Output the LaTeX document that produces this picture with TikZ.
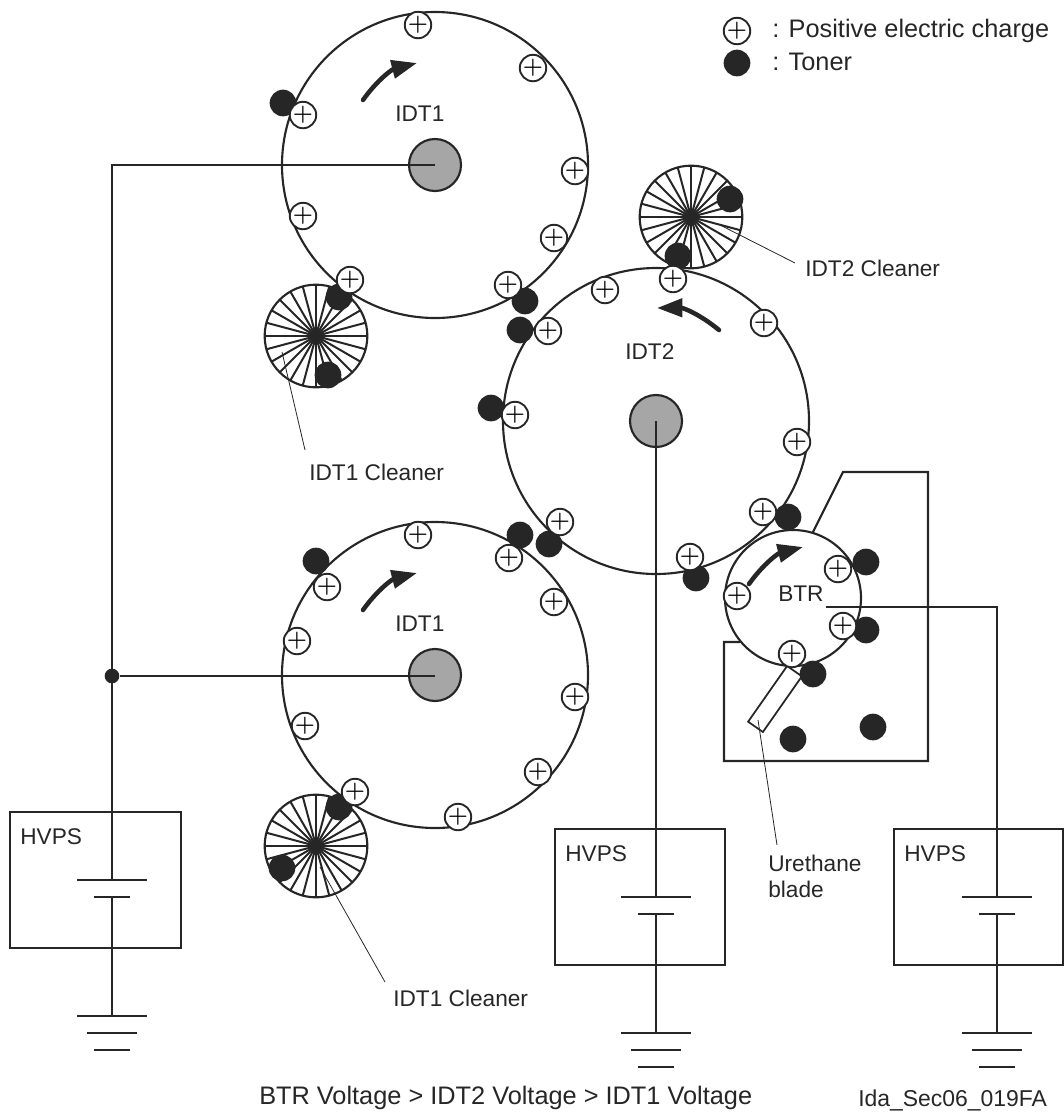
\documentclass[tikz,border=0pt]{standalone}
\usepackage{fontspec}
\setmainfont{Liberation Sans}
\usetikzlibrary{arrows.meta}

\begin{document}
\begin{tikzpicture}[
    x=0.75pt, y=-0.75pt,
    wire/.style={line width=1.6pt, draw=black!85},
    thin line/.style={line width=0.6pt, draw=black!85},
    drum/.style={circle, draw=black!85, line width=1.6pt, inner sep=0pt, outer sep=0pt},
    shaft/.style={drum, fill=black!35, minimum size=39pt},
    brush/.style={drum, minimum size=77pt},
    charge/.style={circle, draw=black!85, fill=white, line width=1.4pt, inner sep=0pt, minimum size=18.5pt, font=\fontsize{16}{16}\selectfont\boldmath},
    toner/.style={circle, fill=black!85, inner sep=0pt, minimum size=20pt},
    hvpsbox/.style={draw=black!85, line width=1.6pt, inner sep=0pt, outer sep=0pt},
    txt/.style={inner sep=0pt, anchor=west, font=\fontsize{17}{19.5}\selectfont, text=black!85},
    legend/.style={txt, font=\fontsize{19}{20}\selectfont},
    spin/.style={line width=3.4pt, line cap=round, draw=black!85, -{Triangle[length=19pt, width=13.5pt]}}
]
    \useasboundingbox (0,0) rectangle (1064,1115);

    % Drums
    \node (idtA) [drum, minimum size=229.5pt] at (435,165) {};
    \node (idtB) [drum, minimum size=229.5pt] at (656,421) {};
    \node (idtC) [drum, minimum size=229.5pt] at (435,675) {};
    \node (shaftA) [shaft] at (435,165) {};
    \node (shaftB) [shaft] at (656,421) {};
    \node (shaftC) [shaft] at (435,675) {};

    % Cleaners
    \node (brushA) [brush] at (316,336) {};
    \node (brushB) [brush] at (691,217) {};
    \node (brushC) [brush] at (316,846) {};
    \foreach \n in {brushA,brushB,brushC}
        \foreach \a in {0,15,...,345}
            \draw [wire, line width=1.5pt] (\n.center) -- (\n.\a);

    % BTR and its housing
    \coordinate (houseA) at (813,532);
    \coordinate (houseB) at (843,472);
    \coordinate (houseC) at (928,472);
    \coordinate (houseD) at (928,761);
    \coordinate (houseE) at (724,761);
    \coordinate (houseF) at (724,642);
    \coordinate (houseG) at (740,642);
    \draw [wire] (houseA) -- (houseB) -- (houseC) -- (houseD) -- (houseE) -- (houseF) -- (houseG);
    \node (btr) [drum, minimum size=102pt] at (793,598) {};
    \node (blade) [draw=black!85, fill=white, line width=1.3pt, inner sep=0pt, minimum width=51pt, minimum height=13.5pt, rotate=55] at (775,699) {};

    % Power supplies
    \foreach \n/\l/\r/\x/\y in {A/10/181/112/812, B/555/725/656/829, C/894/1063/997/829} {
        \node (hvps\n) [hvpsbox, minimum width={(\r-\l)*0.75pt}, minimum height=102pt, anchor=north west] at (\l,\y) {};
        \node (hvpsText\n) [txt] at (\l+10,\y+25) {HVPS};
        \coordinate (plus\n) at (\x,\y+68);
        \coordinate (minus\n) at (\x,\y+85);
        \coordinate (earth\n) at (\x,\y+204);
        \draw [wire] (\x-35,\y+68) -- (\x+35,\y+68);
        \draw [wire] (\x-18,\y+85) -- (\x+18,\y+85);
        \draw [wire] (\x-35,\y+204) -- (\x+35,\y+204);
        \draw [wire] (\x-25,\y+221) -- (\x+25,\y+221);
        \draw [wire] (\x-18,\y+238) -- (\x+18,\y+238);
        \draw [wire] (minus\n) -- (earth\n);
    }

    % Wires
    \node (tap) [circle, fill=black!85, inner sep=0pt, minimum size=11pt] at (112,676) {};
    \coordinate (btrTap) at (826,607);
    \draw [wire] (shaftA.center) -| (plusA);
    \draw [wire] (shaftC.center |- tap) -- (tap);
    \draw [wire] (shaftB.center) -- (plusB);
    \draw [wire] (btrTap) -| (plusC);

    % Toner
    \foreach \p [count=\i] in {(283,103),(339,297),(525,301),(520,330),(328,375),(678,256),(730,199),
        (491,408),(788,517),(696,578),(866,562),(866,630),(813,674),(793,739),(873,727),
        (316,561),(520,535),(549,544),(339,807),(282,868),(737,63)}
        \node (toner\i) [toner] at \p {};

    % Charges
    \foreach \p [count=\i] in {(418,25),(533,68),(303,115),(575,171),(303,216),(554,238),(350,280),(508,285),
        (605,290),(673,279),(764,323),(548,331),(515,415),(797,442),(763,512),(560,522),(690,557),
        (737,596),(838,569),(843,626),(792,654),
        (418,535),(509,558),(327,587),(554,602),(297,641),(575,697),(305,726),(538,772),(458,817),(355,792),(737,31)}
        \node (charge\i) [charge] at \p {$+$};

    % Rotation arrows
    \coordinate (spinAa) at (363,100);
    \coordinate (spinAb) at (417,63);
    \coordinate (spinBa) at (719,330);
    \coordinate (spinBb) at (657,308);
    \coordinate (spinCa) at (363,610);
    \coordinate (spinCb) at (417,573);
    \coordinate (spinDa) at (749,584);
    \coordinate (spinDb) at (803,547);
    \draw [spin] (spinAa) to[bend left=20] (spinAb);
    \draw [spin] (spinBa) to[bend right=20] (spinBb);
    \draw [spin] (spinCa) to[bend left=20] (spinCb);
    \draw [spin] (spinDa) to[bend left=20] (spinDb);

    % Labels
    \node (labelA) [txt] at (395,114) {IDT1};
    \node (labelB) [txt] at (625,352) {IDT2};
    \node (labelC) [txt] at (395,624) {IDT1};
    \node (labelD) [txt] at (778,594) {BTR};
    \node (cleanerA) [txt] at (309,472) {IDT1 Cleaner};
    \node (cleanerB) [txt] at (805,268) {IDT2 Cleaner};
    \node (cleanerC) [txt] at (393,998) {IDT1 Cleaner};
    \node (urethane) [txt, align=left] at (768,876) {Urethane\\blade};
    \node (legendA) [legend] at (772,31) {: Positive electric charge};
    \node (legendB) [legend] at (772,62) {: Toner};
    \node (voltage) [legend] at (259,1098) {BTR Voltage > IDT2 Voltage > IDT1 Voltage};
    \node (partNo) [txt, font=\fontsize{17.2}{20}\selectfont] at (858,1100) {Ida\_Sec06\_019FA};

    % Leaders
    \coordinate (leadA) at (282,352);
    \coordinate (leadAend) at (305,450);
    \coordinate (leadB) at (720,225);
    \coordinate (leadBend) at (795,263);
    \coordinate (leadC) at (320,867);
    \coordinate (leadCend) at (385,982);
    \coordinate (leadD) at (758,720);
    \coordinate (leadDend) at (777,845);
    \draw [thin line] (leadA) -- (leadAend);
    \draw [thin line] (leadB) -- (leadBend);
    \draw [thin line] (leadC) -- (leadCend);
    \draw [thin line] (leadD) -- (leadDend);
\end{tikzpicture}
\end{document}
